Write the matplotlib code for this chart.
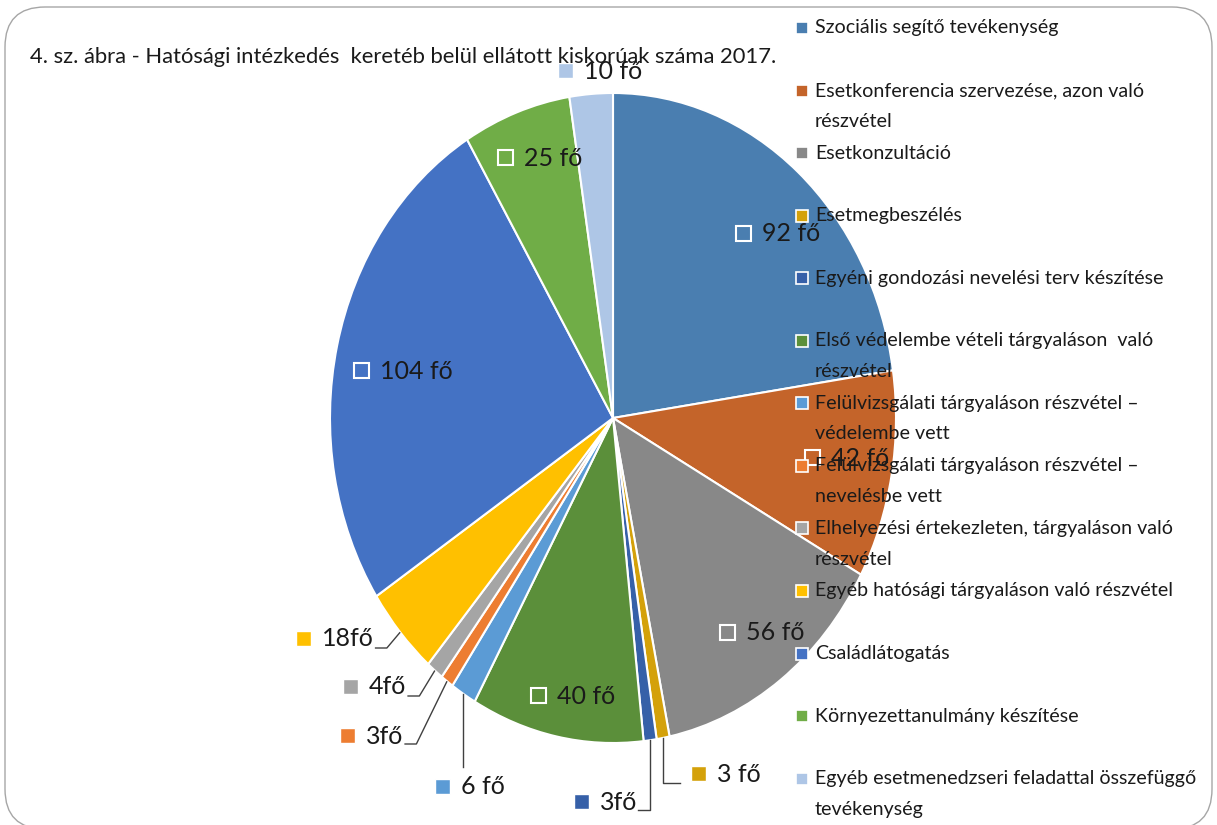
import matplotlib
matplotlib.use('Agg')
import matplotlib.pyplot as plt
from matplotlib.patches import Rectangle, FancyBboxPatch
from matplotlib.transforms import IdentityTransform
import numpy as np

plt.rcParams['font.family'] = ['Lato', 'DejaVu Sans']

title = "4. sz. ábra - Hatósági intézkedés  keretéb belül ellátott kiskorúak száma 2017."
categories = [
    "Szociális segítő tevékenység",
    "Esetkonferencia szervezése, azon való\nrészvétel",
    "Esetkonzultáció",
    "Esetmegbeszélés",
    "Egyéni gondozási nevelési terv készítése",
    "Első védelembe vételi tárgyaláson  való\nrészvétel",
    "Felülvizsgálati tárgyaláson részvétel –\nvédelembe vett",
    "Felülvizsgálati tárgyaláson részvétel –\nnevelésbe vett",
    "Elhelyezési értekezleten, tárgyaláson való\nrészvétel",
    "Egyéb hatósági tárgyaláson való részvétel",
    "Családlátogatás",
    "Környezettanulmány készítése",
    "Egyéb esetmenedzseri feladattal összefüggő\ntevékenység",
]
values = [92, 42, 56, 3, 3, 40, 6, 3, 4, 18, 104, 25, 10]
value_labels = ["92 fő", "42 fő", "56 fő", "3 fő", "3fő", "40 fő", "6 fő",
                "3fő", "4fő", "18fő", "104 fő", "25 fő", "10 fő"]
colors = ["#4A7EB0", "#C4642A", "#888888", "#D4A10A", "#3660A8", "#5B8F3A",
          "#5B9BD5", "#ED7D31", "#A5A5A5", "#FFC000", "#4472C4", "#70AD47",
          "#AEC6E6"]

W, H = 1217, 825
CX, CY, RX, RY = 613, 418, 283, 325

fig = plt.figure(figsize=(W / 100, H / 100), dpi=100)
ax = fig.add_axes([0, 0, 1, 1])
wedges, _ = ax.pie(values, colors=colors, startangle=90, counterclock=False,
                   radius=1, wedgeprops=dict(edgecolor='white', linewidth=1.5))
ax.set_aspect('auto')
ax.set_xlim(-CX / RX, (W - CX) / RX)
ax.set_ylim(-(H - CY) / RY, CY / RY)
ax.axis('off')


def px(x, y):
    """image pixel (top-left origin) -> data coords"""
    return ((x - CX) / RX, (CY - y) / RY)


# border
ax.add_patch(FancyBboxPatch((5, -4), 1207, 822, boxstyle="round,pad=0,rounding_size=40",
                            transform=IdentityTransform(), fill=False,
                            edgecolor='#A6A6A6', linewidth=1.0, clip_on=False, zorder=0))

# title
ax.text(*px(30, 57), title, ha='left', va='center', fontsize=15.8, color='#1a1a1a', zorder=5)

# data labels: square centre position (pixels), inside = hollow white square
inside = {0: (743, 233), 1: (812, 458), 2: (727, 632), 5: (538, 695), 10: (361, 371), 11: (505, 158)}
outside = {12: (565, 71), 9: (303, 638), 8: (350, 686), 7: (347, 735), 6: (442, 786), 4: (581, 801), 3: (698, 773)}

sq = 15
fs_lab = 18
for i, (x, y) in inside.items():
    ax.add_patch(Rectangle(px(x - sq / 2, y + sq / 2), sq / RX, sq / RY, facecolor='none',
                           edgecolor='white', linewidth=1.5, zorder=4))
    ax.text(*px(x + 19, y + 1), value_labels[i], ha='left', va='center', fontsize=fs_lab,
            color='#1a1a1a', zorder=5)

renderer = fig.canvas.get_renderer()
text_objs = {}
for i, (x, y) in outside.items():
    ax.add_patch(Rectangle(px(x - sq / 2, y + sq / 2), sq / RX, sq / RY, facecolor=colors[i],
                           edgecolor='white', linewidth=1.0, zorder=4))
    t = ax.text(*px(x + 19, y + 1), value_labels[i], ha='left', va='center', fontsize=fs_lab,
                color='#1a1a1a', zorder=5)
    text_objs[i] = t


def edge_point(i):
    w = wedges[i]
    th = np.deg2rad((w.theta1 + w.theta2) / 2)
    return np.array([np.cos(th), np.sin(th)])


def text_right(i):
    bb = text_objs[i].get_window_extent(renderer)
    return bb.x1


lc = '#404040'
# left side labels with elbow leader
for i, y_base in [(9, 648), (8, 696), (7, 744)]:
    xr = text_right(i)
    p_end = np.array(px(xr + 1, y_base))
    p_elb = np.array(px(xr + 13, y_base))
    p_edge = edge_point(i)
    ax.plot([p_end[0], p_elb[0], p_edge[0]], [p_end[1], p_elb[1], p_edge[1]],
            color=lc, lw=1.0, zorder=3, solid_capstyle='butt')

# 6 fő: vertical leader
pe = edge_point(6)
pb = np.array(px(0, 767))
ax.plot([pe[0], pe[0]], [pe[1], pb[1]], color=lc, lw=1.0, zorder=3)

# 3fő dark blue: down then left to text end
pe = edge_point(4)
xr = text_right(4)
pb = np.array(px(xr + 1, 810))
ax.plot([pe[0], pe[0], pb[0]], [pe[1], pb[1], pb[1]], color=lc, lw=1.0, zorder=3)

# 3 fő gold: down then right toward square
pe = edge_point(3)
pb = np.array(px(680, 783))
ax.plot([pe[0], pe[0], pb[0]], [pe[1], pb[1], pb[1]], color=lc, lw=1.0, zorder=3)

# legend
lx_sq, lx_txt = 802, 815
for i, cat in enumerate(categories):
    y0 = 28 + i * 62.55
    ax.add_patch(Rectangle(px(lx_sq - 6, y0 + 6), 12 / RX, 12 / RY, facecolor=colors[i],
                           edgecolor='white', linewidth=1.2, zorder=6))
    for j, line in enumerate(cat.split("\n")):
        ax.text(*px(lx_txt, y0 + j * 30.7), line, ha='left', va='center', fontsize=14.1,
                color='#1a1a1a', zorder=6)

fig.savefig('out.png', dpi=100)
